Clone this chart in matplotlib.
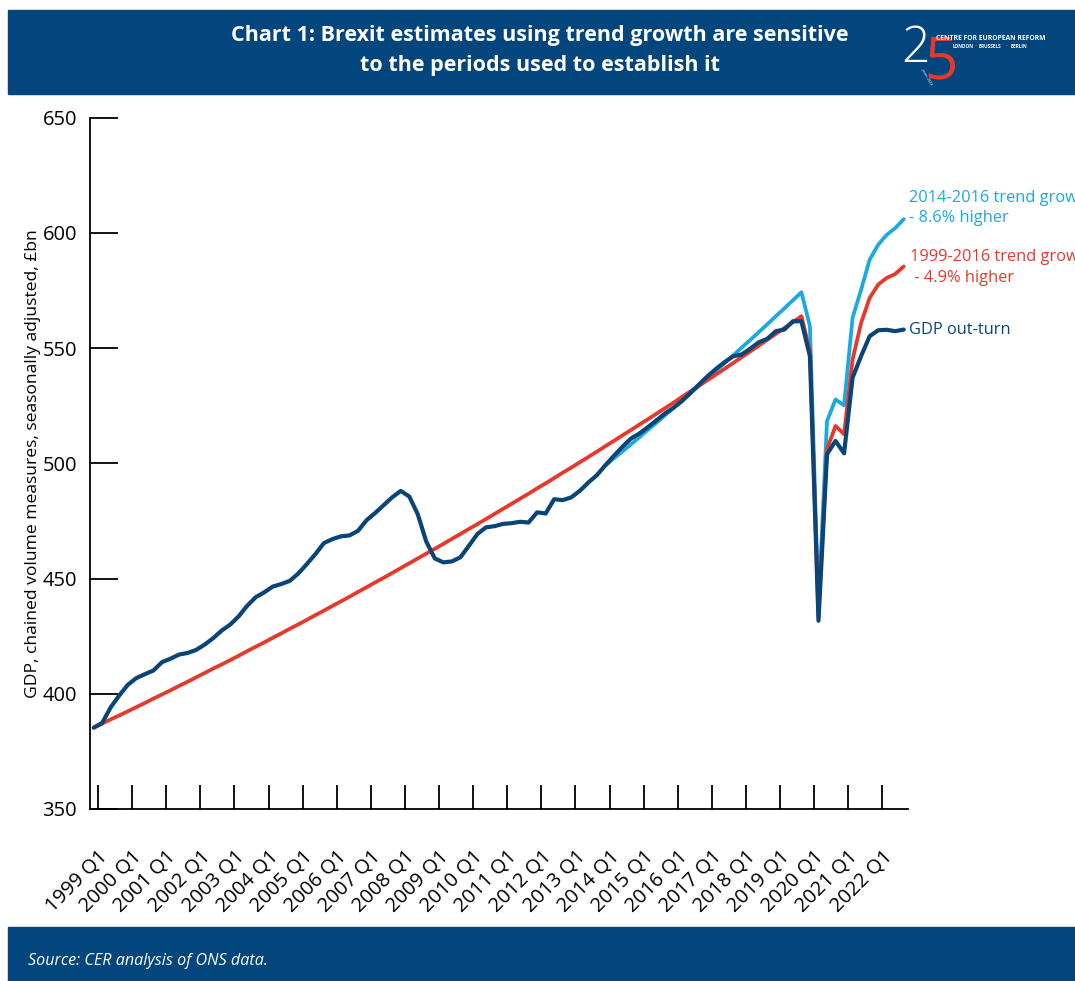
import numpy as np
import matplotlib
matplotlib.use("Agg")
import matplotlib.pyplot as plt
from matplotlib.patches import Rectangle

plt.rcParams["font.family"] = ["Open Sans", "DejaVu Sans"]

# Quarterly categories, 1999 Q1 - 2022 Q4
years = list(range(1999, 2023))
quarters = [f"{y} Q{q}" for y in years for q in range(1, 5)]

# GDP, chained volume measures, seasonally adjusted, £bn
gdp_outturn = [
    385.3, 387.4, 394.2, 399.3, 403.9, 406.8, 408.5, 410.1,
    413.7, 415.2, 417.0, 417.7, 419.0, 421.3, 424.1, 427.4,
    430.0, 433.6, 438.2, 441.9, 444.0, 446.5, 447.6, 449.0,
    452.2, 456.3, 460.6, 465.4, 467.1, 468.3, 468.7, 470.7,
    475.3, 478.4, 481.8, 485.2, 488.0, 485.6, 477.9, 466.0,
    458.7, 457.0, 457.4, 459.2, 464.2, 469.3, 472.2, 472.7,
    473.7, 474.0, 474.6, 474.3, 478.7, 478.2, 484.4, 484.0,
    485.2, 488.0, 491.6, 494.8, 499.1, 503.2, 507.1, 510.7,
    512.9, 515.7, 518.6, 521.6, 524.1, 527.0, 530.6, 534.2,
    537.8, 541.0, 543.9, 546.4, 547.2, 549.7, 552.5, 554.0,
    557.3, 558.0, 561.6, 561.6, 546.4, 431.7, 503.9, 509.7,
    504.3, 537.1, 546.5, 555.1, 557.7, 557.9, 557.3, 558.0,
]

# Counterfactual path using 1999-2016 trend growth
trend_1999_2016 = [
    385.3, 387.1, 388.9, 390.6, 392.4, 394.2, 396.0, 397.9,
    399.7, 401.5, 403.4, 405.2, 407.1, 409.0, 410.9, 412.7,
    414.6, 416.5, 418.5, 420.4, 422.3, 424.3, 426.2, 428.2,
    430.1, 432.1, 434.1, 436.1, 438.1, 440.1, 442.1, 444.2,
    446.2, 448.3, 450.3, 452.4, 454.5, 456.6, 458.7, 460.8,
    462.9, 465.0, 467.2, 469.3, 471.5, 473.6, 475.8, 478.0,
    480.2, 482.4, 484.6, 486.8, 489.1, 491.3, 493.6, 495.9,
    498.1, 500.4, 502.7, 505.0, 507.4, 509.7, 512.1, 514.4,
    516.8, 519.1, 521.5, 523.9, 526.3, 528.8, 531.2, 533.6,
    536.1, 538.5, 541.0, 543.5, 546.0, 548.5, 551.0, 553.6,
    556.1, 558.7, 561.2, 563.8, 548.6, 434.0, 506.1, 516.2,
    512.6, 545.0, 560.9, 571.7, 577.5, 580.4, 582.1, 585.4,
]

# Counterfactual path using 2014-2016 trend growth (starts 2014 Q1)
trend_2014_2016_start = "2014 Q1"
trend_2014_2016 = [
    499.0, 502.1, 505.1, 508.2, 511.3, 514.5, 517.6, 520.8,
    524.0, 527.2, 530.4, 533.7, 536.9, 540.2, 543.5, 546.8,
    550.2, 553.5, 556.9, 560.3, 563.8, 567.2, 570.7, 574.2,
    559.4, 438.0, 518.3, 527.7, 525.1, 563.1, 575.3, 588.3,
    594.8, 599.1, 602.0, 605.9,
]

BAND = "#03467e"
DARK = "#0b4578"
RED = "#e8382b"
LIGHT = "#1aa9e0"

W, H = 1075, 981
fig = plt.figure(figsize=(W / 100, H / 100), dpi=100)

# Header and footer bands
fig.patches.append(Rectangle((8 / W, 1 - 94 / H), 1 - 8 / W, 84 / H,
                             transform=fig.transFigure, color=BAND, zorder=0))
fig.patches.append(Rectangle((8 / W, 0), 1 - 8 / W, 54 / H,
                             transform=fig.transFigure, color=BAND, zorder=0))

fig.text(540 / W, 1 - 36 / H,
         "Chart 1: Brexit estimates using trend growth are sensitive",
         color="white", fontsize=15.5, fontweight="bold", ha="center", va="center")
fig.text(540 / W, 1 - 66 / H, "to the periods used to establish it",
         color="white", fontsize=15.5, fontweight="bold", ha="center", va="center")

# Logo
fig.text(916 / W, 1 - 49 / H, "2", color="white", fontsize=36,
         fontweight="light", ha="center", va="center")
fig.text(941 / W, 1 - 63 / H, "5", color=RED, fontsize=42,
         fontweight="normal", ha="center", va="center")
fig.text(936 / W, 1 - 38.5 / H, "CENTRE FOR EUROPEAN REFORM", color="white",
         fontsize=4.9, fontweight="bold", ha="left", va="center")
fig.text(953 / W, 1 - 46.5 / H, "LONDON", color="white", fontsize=3.4,
         fontweight="bold", ha="left", va="center")
fig.text(974.5 / W, 1 - 46.5 / H, "\u2022", color=RED, fontsize=3.4, ha="left", va="center")
fig.text(979 / W, 1 - 46.5 / H, "BRUSSELS", color="white", fontsize=3.4,
         fontweight="bold", ha="left", va="center")
fig.text(1006 / W, 1 - 46.5 / H, "\u2022", color=RED, fontsize=3.4, ha="left", va="center")
fig.text(1011 / W, 1 - 46.5 / H, "BERLIN", color="white", fontsize=3.4,
         fontweight="bold", ha="left", va="center")
fig.text(926 / W, 1 - 77 / H, "years 2023", color="white", fontsize=2.6,
         rotation=-60, ha="center", va="center")

fig.text(28 / W, 1 - 961 / H, "Source: CER analysis of ONS data.", color="white",
         fontsize=11.6, fontstyle="italic", ha="left", va="center")

# Chart area
left, right, top, bottom = 89.5, 908, 117.5, 809
ax = fig.add_axes([left / W, 1 - bottom / H, (right - left) / W, (bottom - top) / H])

x = np.arange(len(quarters))
s2 = quarters.index(trend_2014_2016_start)
x2 = x[s2:s2 + len(trend_2014_2016)]

ax.plot(x2, trend_2014_2016, color=LIGHT, lw=2.7, solid_joinstyle="round",
        solid_capstyle="round", zorder=2)
ax.plot(x, trend_1999_2016, color=RED, lw=2.7, solid_joinstyle="round",
        solid_capstyle="round", zorder=3)
ax.plot(x, gdp_outturn, color=DARK, lw=3.0, solid_joinstyle="round",
        solid_capstyle="round", zorder=4)

ax.set_xlim(-0.5, len(quarters) - 0.5)
ax.set_ylim(350, 650)
ax.set_yticks(np.arange(350, 651, 50))
ax.set_xticks(x[::4] + 0.5)
ax.set_xticklabels(quarters[::4], rotation=45, ha="right", va="top",
                   rotation_mode="anchor")

for side in ("top", "right"):
    ax.spines[side].set_visible(False)
for side in ("left", "bottom"):
    ax.spines[side].set_linewidth(1.3)
    ax.spines[side].set_color("black")

ax.tick_params(axis="y", direction="in", length=20, width=1.3, pad=9,
               labelsize=14.5, colors="black")
ax.tick_params(axis="x", direction="in", length=17, width=1.3, pad=27,
               labelsize=14.5, colors="black")

ax.set_ylabel("GDP, chained volume measures, seasonally adjusted, \u00a3bn",
              fontsize=12.6, labelpad=1)

# End-of-line labels
lb_gap = (trend_2014_2016[-1] / gdp_outturn[-1] - 1) * 100
red_gap = (trend_1999_2016[-1] / gdp_outturn[-1] - 1) * 100
xe = x[-1]
fs = 11.8
ax.annotate("2014-2016 trend growth", xy=(xe, trend_2014_2016[-1]), xytext=(5, 21),
            textcoords="offset pixels", color=LIGHT, fontsize=fs, va="center",
            ha="left", annotation_clip=False)
ax.annotate(f"- {lb_gap:.1f}% higher", xy=(xe, trend_2014_2016[-1]), xytext=(5, 1),
            textcoords="offset pixels", color=LIGHT, fontsize=fs, va="center",
            ha="left", annotation_clip=False)
ax.annotate("1999-2016 trend growth", xy=(xe, trend_1999_2016[-1]), xytext=(6, 9),
            textcoords="offset pixels", color=RED, fontsize=fs, va="center",
            ha="left", annotation_clip=False)
ax.annotate(f" - {red_gap:.1f}% higher", xy=(xe, trend_1999_2016[-1]), xytext=(6, -12),
            textcoords="offset pixels", color=RED, fontsize=fs, va="center",
            ha="left", annotation_clip=False)
ax.annotate("GDP out-turn", xy=(xe, gdp_outturn[-1]), xytext=(5, 0),
            textcoords="offset pixels", color=DARK, fontsize=fs, va="center",
            ha="left", annotation_clip=False)

fig.savefig("out.png", dpi=100)
